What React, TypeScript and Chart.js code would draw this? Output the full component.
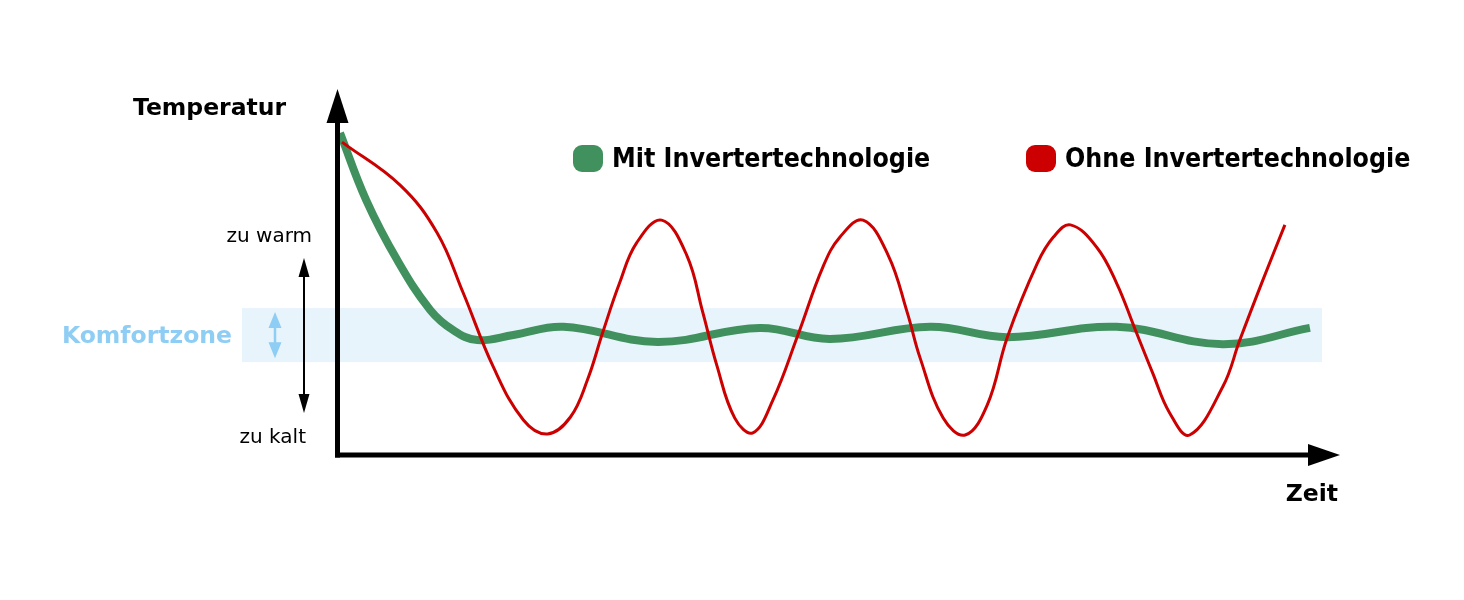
import { useEffect, useRef } from "react";
import { Chart, registerables } from "chart.js";

Chart.register(...registerables);

// Time (arbitrary units 0..100) and temperature (arbitrary units 0..100)
const timeWith = [0.2, 2.8, 5.9, 9.2, 11.5, 13.9, 17.5, 22.5, 31.9, 42.1, 49.1, 59.1, 66.8, 77.7, 88.3, 97.0];
const tempWith = [87.8, 69.6, 53.3, 39.7, 34.2, 31.5, 32.9, 35.1, 31.0, 34.8, 31.8, 35.1, 32.3, 35.1, 30.4, 34.8];

const timeWithout = [
  0.4, 6.2, 9.9, 12.5, 15.5, 18.5, 20.9,
  23.2, 24.9, 26.4, 28.1, 29.8, 32.3,
  34.8, 36.4, 37.8, 39.6, 41.4,
  43.4, 45.9, 48.4, 50.1, 52.4,
  54.9, 56.8, 58.1, 60.4, 62.6,
  64.8, 66.8, 69.8, 71.4, 73.1,
  75.7, 77.7, 79.5, 81.3, 83.0, 85.0,
  88.3, 90.0, 92.3, 94.5,
];
const tempWithout = [
  85.3, 73.6, 60.6, 44.3, 24.2, 9.8, 6.0,
  10.6, 20.7, 33.4, 47.0, 57.9, 64.1,
  54.6, 39.1, 24.7, 10.3, 6.3,
  15.2, 32.9, 51.4, 59.5, 64.1,
  54.6, 39.1, 26.6, 10.3, 5.7,
  13.9, 32.3, 52.4, 59.5, 62.8,
  56.8, 47.0, 34.8, 22.6, 11.7, 5.7,
  18.8, 31.5, 47.8, 62.8,
];

const seriesLabels = ["Mit Invertertechnologie", "Ohne Invertertechnologie"];
const seriesColors = ["#41915f", "#cc0000"];
const comfortZone = [25.5, 40.2];
const warmColdRange = [53.8, 11.7];
const levelLabels = ["zu warm", "zu kalt"];
const comfortLabel = "Komfortzone";
const yAxisTitle = "Temperatur";
const xAxisTitle = "Zeit";

const W = 1448;
const H = 584;

function arrowHead(ctx: CanvasRenderingContext2D, tipX: number, tipY: number, dx: number, dy: number, len: number, half: number) {
  const bx = tipX - dx * len;
  const by = tipY - dy * len;
  const px = -dy;
  const py = dx;
  ctx.beginPath();
  ctx.moveTo(tipX, tipY);
  ctx.lineTo(bx + px * half, by + py * half);
  ctx.lineTo(bx - px * half, by - py * half);
  ctx.closePath();
  ctx.fill();
}

const decorPlugin = {
  id: "decor",
  beforeDatasetsDraw(chart: any) {
    const { ctx, chartArea, scales } = chart;
    const y = scales.y;
    const top = y.getPixelForValue(comfortZone[1]);
    const bot = y.getPixelForValue(comfortZone[0]);
    const left = chartArea.left - 96;
    const right = chartArea.right - 18;
    ctx.save();
    ctx.fillStyle = "#e8f4fc";
    ctx.fillRect(left, top, right - left, bot - top);
    ctx.restore();
  },
  afterDatasetsDraw(chart: any) {
    const { ctx, chartArea, scales } = chart;
    const { left, right, top, bottom } = chartArea;
    const y = scales.y;
    ctx.save();

    // Axes
    ctx.strokeStyle = "#000";
    ctx.fillStyle = "#000";
    ctx.lineWidth = 5;
    ctx.lineCap = "butt";
    const ax = left - 0.5;
    const ay = bottom - 1;
    ctx.beginPath();
    ctx.moveTo(ax, ay + 2.5);
    ctx.lineTo(ax, top + 34);
    ctx.stroke();
    arrowHead(ctx, ax, top + 1, 0, -1, 34, 11);
    ctx.beginPath();
    ctx.moveTo(ax - 2.5, ay);
    ctx.lineTo(right - 31, ay);
    ctx.stroke();
    arrowHead(ctx, right, ay, 1, 0, 32, 11);

    // Warm / cold double arrow
    const dax = left - 34;
    const warmY = y.getPixelForValue(warmColdRange[0]);
    const coldY = y.getPixelForValue(warmColdRange[1]);
    ctx.lineWidth = 2;
    ctx.beginPath();
    ctx.moveTo(dax, warmY + 16);
    ctx.lineTo(dax, coldY - 16);
    ctx.stroke();
    arrowHead(ctx, dax, warmY, 0, -1, 19, 5.5);
    arrowHead(ctx, dax, coldY, 0, 1, 19, 5.5);

    // Comfort double arrow
    const cTop = y.getPixelForValue(comfortZone[1]) + 4;
    const cBot = y.getPixelForValue(comfortZone[0]) - 4;
    const cax = left - 63;
    ctx.strokeStyle = "#8ecdf4";
    ctx.fillStyle = "#8ecdf4";
    ctx.lineWidth = 2.5;
    ctx.beginPath();
    ctx.moveTo(cax, cTop + 10);
    ctx.lineTo(cax, cBot - 10);
    ctx.stroke();
    arrowHead(ctx, cax, cTop, 0, -1, 16, 6.5);
    arrowHead(ctx, cax, cBot, 0, 1, 16, 6.5);

    // Texts
    ctx.fillStyle = "#8ecdf4";
    ctx.font = "bold 23.5px 'DejaVu Sans'";
    ctx.textAlign = "right";
    ctx.textBaseline = "alphabetic";
    const midC = (y.getPixelForValue(comfortZone[0]) + y.getPixelForValue(comfortZone[1])) / 2;
    ctx.fillText(comfortLabel, left - 106, midC + 8);

    ctx.fillStyle = "#000";
    ctx.font = "20px 'DejaVu Sans'";
    ctx.textAlign = "right";
    ctx.fillText(levelLabels[0], left - 26, warmY - 16);
    ctx.fillText(levelLabels[1], left - 32, coldY + 30);

    ctx.font = "bold 23.5px 'DejaVu Sans'";
    ctx.textAlign = "left";
    ctx.fillText(yAxisTitle, left - 205, top + 27);
    ctx.textAlign = "right";
    ctx.fillText(xAxisTitle, right - 2, bottom + 45);

    // Legend
    const ds = chart.data.datasets;
    const legendX = [left + 235, left + 688];
    ds.forEach((d: any, i: number) => {
      const mx = legendX[i];
      const my = top + 57;
      ctx.fillStyle = d.borderColor;
      ctx.beginPath();
      (ctx as any).roundRect(mx, my, 30, 27, 9);
      ctx.fill();
      ctx.fillStyle = "#000";
      ctx.font = "bold 26.5px 'DejaVu Sans Condensed', 'DejaVu Sans'";
      ctx.textAlign = "left";
      ctx.fillText(d.label, mx + 39, my + 22);
    });

    ctx.restore();
  },
};

export default function App() {
  const ref = useRef<HTMLCanvasElement | null>(null);
  useEffect(() => {
    if (!ref.current) return;
    const chart = new Chart(ref.current, {
      type: "line",
      data: {
        datasets: [
          {
            label: seriesLabels[0],
            data: timeWith.map((t, i) => ({ x: t, y: tempWith[i] })),
            borderColor: seriesColors[0],
            backgroundColor: seriesColors[0],
            borderWidth: 8,
            pointRadius: 0,
            tension: 0.4,
            order: 1,
          },
          {
            label: seriesLabels[1],
            data: timeWithout.map((t, i) => ({ x: t, y: tempWithout[i] })),
            borderColor: seriesColors[1],
            backgroundColor: seriesColors[1],
            borderWidth: 3,
            pointRadius: 0,
            tension: 0.4,
            order: 0,
          },
        ],
      },
      options: {
        animation: false,
        responsive: false,
        devicePixelRatio: 1,
        layout: { padding: { left: 330, right: 116, top: 80, bottom: 136 } },
        scales: {
          x: { type: "linear", min: 0, max: 100, display: false },
          y: { type: "linear", min: 0, max: 100, display: false },
        },
        plugins: {
          legend: { display: false },
          tooltip: { enabled: false },
        },
      },
      plugins: [decorPlugin],
    } as any);
    return () => chart.destroy();
  }, []);
  return (
    <div style={{ width: W, height: H }}>
      <canvas ref={ref} width={W} height={H} style={{ display: "block" }} />
    </div>
  );
}
